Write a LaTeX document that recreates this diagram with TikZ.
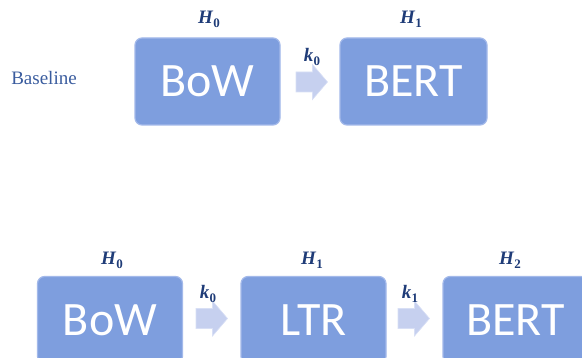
\documentclass[tikz,border=0pt]{standalone}
\usepackage{fontspec}
\setmainfont{Carlito}
\newfontfamily\labfont{Liberation Serif}
\newcommand\hsym[2]{{\labfont\bfseries\itshape #1}\kern0.3pt\raisebox{-4pt}{\labfont\bfseries\fontsize{13}{13}\selectfont #2}}
\definecolor{boxfill}{HTML}{7E9EDE}
\definecolor{boxedge}{HTML}{A3B9EA}
\definecolor{arrfill}{HTML}{C6D0EF}
\definecolor{arredge}{HTML}{D8DFF5}
\definecolor{labblue}{HTML}{1F3C78}
\definecolor{baseblue}{HTML}{3A5C9E}
\tikzset{
  stage/.style={draw=boxedge, line width=1.2pt, fill=boxfill, rounded corners=7pt,
    minimum width=145pt, minimum height=87pt, inner sep=0pt, text=white,
    font=\fontsize{48}{48}\selectfont},
  blockarrow/.style={draw=arredge, fill=arrfill, line width=0.6pt},
  hlab/.style={text=labblue, font=\fontsize{19}{19}\selectfont, inner sep=0pt},
  pics/barrow/.style={code={
    \path[blockarrow] (-16,-10) -- (0.5,-10) -- (0.5,-17.5) -- (15.5,0)
      -- (0.5,17.5) -- (0.5,10) -- (-16,10) -- cycle;
  }},
}
\begin{document}
\begin{tikzpicture}[x=1pt,y=-1pt]
\useasboundingbox (0,0) rectangle (582,358);
% top row
\node[text=baseblue, font=\labfont\fontsize{19}{19}\selectfont, inner sep=0pt] (base) at (44,78) {Baseline};
\node[stage] (tbow) at (207.5,81.5) {BoW};
\node[stage, minimum width=147pt] (tbert) at (413.5,81.5) {BERT};
\pic (ta) at (312,82) {barrow};
\node[hlab] (th0) at (209,19) {\hsym{H}{0}};
\node[hlab] (th1) at (411,19) {\hsym{H}{1}};
\node[hlab] (tk0) at (312,57) {\hsym{k}{0}};
% bottom row
\node[stage] (bbow) at (110,320) {BoW};
\node[stage] (bltr) at (313.5,320) {LTR};
\node[stage] (bbert) at (515.5,320) {BERT};
\pic (ba0) at (212,318.5) {barrow};
\pic (ba1) at (414,318.5) {barrow};
\node[hlab] (bh0) at (112,260) {\hsym{H}{0}};
\node[hlab] (bh1) at (312,260) {\hsym{H}{1}};
\node[hlab] (bh2) at (510,260) {\hsym{H}{2}};
\node[hlab] (bk0) at (208,294) {\hsym{k}{0}};
\node[hlab] (bk1) at (410,294) {\hsym{k}{1}};
\end{tikzpicture}
\end{document}
